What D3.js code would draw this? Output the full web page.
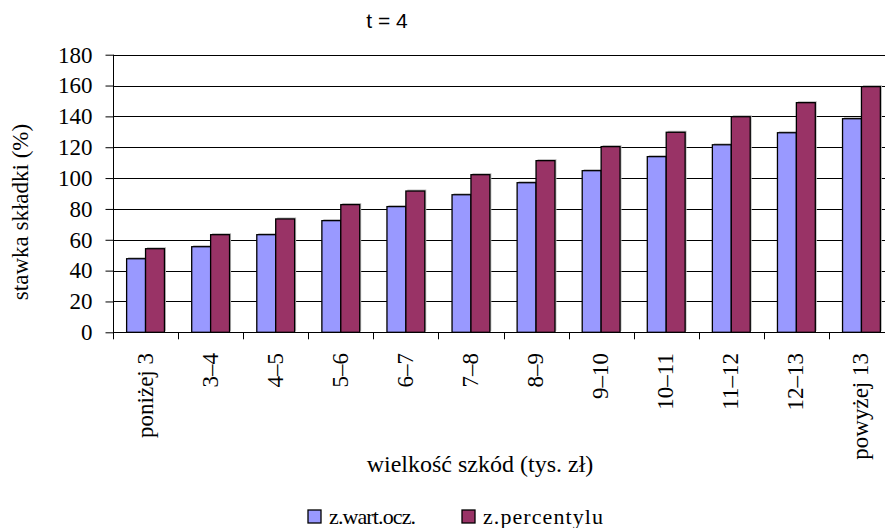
<!DOCTYPE html>
<html>
<head>
<meta charset="utf-8">
<script src="https://cdn.jsdelivr.net/npm/d3@7"></script>
<style>
  html, body { margin: 0; padding: 0; background: #fff; }
  svg { display: block; }
</style>
</head>
<body>
<svg id="chart" width="885" height="528"></svg>
<script>
// Loss-size brackets (thousand zł)
const categories = ["poniżej 3", "3–4", "4–5", "5–6", "6–7", "7–8", "8–9", "9–10", "10–11", "11–12", "12–13", "powyżej 13"];
// Premium rate (%) from expected value
const expectedValue = [47.7, 55.5, 63.3, 72.4, 81.5, 89.2, 97.0, 104.8, 113.9, 121.6, 129.4, 138.5];
// Premium rate (%) from percentile
const percentile = [54.2, 63.3, 73.5, 82.8, 91.6, 102.2, 111.3, 120.4, 129.7, 139.8, 148.9, 159.3];
const seriesNames = ["z.wart.ocz.", "z.percentylu"];
const seriesColors = ["#9999FF", "#993366"];
const yTicks = [0, 20, 40, 60, 80, 100, 120, 140, 160, 180];

const svg = d3.select("#chart");
const serif = "'Liberation Serif', 'Times New Roman', serif";
const sans = "'Liberation Sans', Arial, sans-serif";

const plotLeft = 113, plotRight = 894, plotTop = 54.7, plotBottom = 332.3;

const x = d3.scaleBand().domain(categories).range([plotLeft, plotRight]).paddingInner(0).paddingOuter(0);
const xs = d3.scaleBand().domain([0, 1]).range([0, x.bandwidth()]).paddingInner(0).paddingOuter(0.72);
const y = d3.scaleLinear().domain([0, 180]).range([plotBottom, plotTop]);

// horizontal gridlines
svg.append("g")
  .selectAll("line")
  .data(yTicks.filter(d => d > 0))
  .join("line")
  .attr("x1", plotLeft).attr("x2", plotRight)
  .attr("y1", d => Math.round(y(d)) + 0.5).attr("y2", d => Math.round(y(d)) + 0.5)
  .attr("stroke", "#000").attr("stroke-width", 1);

// bars
const rows = categories.map((c, i) => ({ c, v: [expectedValue[i], percentile[i]] }));
const groups = svg.append("g").selectAll("g")
  .data(rows).join("g")
  .attr("transform", d => `translate(${x(d.c)},0)`);

// soft shadow behind bars
groups.selectAll("rect.sh")
  .data(d => d.v.map((v, k) => ({ v, k })))
  .join("rect")
  .attr("class", "sh")
  .attr("x", d => xs(d.k) + 1.5)
  .attr("y", d => y(d.v) - 1.5)
  .attr("width", xs.bandwidth())
  .attr("height", d => plotBottom - y(d.v))
  .attr("fill", "#bbb");

groups.selectAll("rect.bar")
  .data(d => d.v.map((v, k) => ({ v, k })))
  .join("rect")
  .attr("class", "bar")
  .attr("x", d => xs(d.k))
  .attr("y", d => y(d.v))
  .attr("width", xs.bandwidth())
  .attr("height", d => plotBottom - y(d.v))
  .attr("fill", d => seriesColors[d.k])
  .attr("stroke", "#000")
  .attr("stroke-width", 1.3);

// y axis
const yAxis = d3.axisLeft(y).tickValues(yTicks).tickSize(8).tickPadding(13).tickFormat(d3.format("d"));
const gy = svg.append("g").attr("transform", `translate(${plotLeft + 0.5},0)`).call(yAxis);
gy.select(".domain").attr("stroke", "#000").attr("d", `M0,${plotTop}V${plotBottom}`);
gy.selectAll(".tick line").attr("stroke", "#000");
gy.selectAll(".tick text").attr("font-family", serif).attr("font-size", 23).attr("fill", "#000");

// x axis: baseline with ticks at category boundaries
svg.append("line")
  .attr("x1", plotLeft).attr("x2", plotRight)
  .attr("y1", Math.round(plotBottom) + 0.5).attr("y2", Math.round(plotBottom) + 0.5)
  .attr("stroke", "#000");
svg.append("g").selectAll("line")
  .data(categories)
  .join("line")
  .attr("x1", d => Math.round(x(d)) + 0.5).attr("x2", d => Math.round(x(d)) + 0.5)
  .attr("y1", plotBottom).attr("y2", plotBottom + 7)
  .attr("stroke", "#000");

// rotated category labels
svg.append("g").selectAll("text")
  .data(categories)
  .join("text")
  .attr("transform", d => `translate(${x(d) + x.bandwidth() / 2 + 7},353) rotate(-90)`)
  .attr("text-anchor", "end")
  .attr("font-family", serif).attr("font-size", 23).attr("fill", "#000")
  .text(d => d);

// title
svg.append("text")
  .attr("x", 387).attr("y", 28)
  .attr("text-anchor", "middle")
  .attr("font-family", sans).attr("font-size", 21).attr("fill", "#000")
  .text("t = 4");

// axis titles
svg.append("text")
  .attr("transform", `translate(28,212) rotate(-90)`)
  .attr("text-anchor", "middle")
  .attr("font-family", serif).attr("font-size", 23).attr("fill", "#000")
  .text("stawka składki (%)");

svg.append("text")
  .attr("x", 480).attr("y", 472)
  .attr("text-anchor", "middle")
  .attr("font-family", serif).attr("font-size", 24).attr("fill", "#000")
  .text("wielkość szkód (tys. zł)");

// legend
const legendPos = [308, 462];
const legendTextLen = [87, 120];
const lg = svg.append("g").selectAll("g")
  .data(seriesNames)
  .join("g")
  .attr("transform", (d, i) => `translate(${legendPos[i]},510)`);
lg.append("rect")
  .attr("x", 0).attr("y", 0).attr("width", 13).attr("height", 13)
  .attr("fill", (d, i) => seriesColors[i])
  .attr("stroke", "#000").attr("stroke-width", 1.3);
lg.append("text")
  .attr("x", 21).attr("y", 14)
  .attr("font-family", serif).attr("font-size", 22).attr("fill", "#000")
  .attr("textLength", (d, i) => legendTextLen[i])
  .attr("lengthAdjust", "spacing")
  .text(d => d);
</script>
</body>
</html>
